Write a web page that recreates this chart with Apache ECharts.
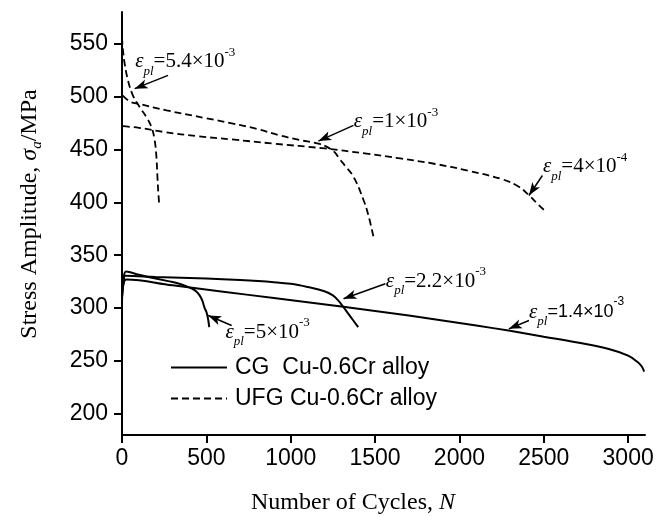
<!DOCTYPE html>
<html><head><meta charset="utf-8">
<script src="https://cdn.jsdelivr.net/npm/echarts@6/dist/echarts.min.js"></script>
<style>html,body{margin:0;padding:0;background:#fff}#c{width:667px;height:517px}</style>
</head><body><div id="c"></div>
<script>
// ---- tick labels ----
const xTicks = [0, 500, 1000, 1500, 2000, 2500, 3000];
const yTicks = [200, 250, 300, 350, 400, 450, 500, 550];
const legendNames = ['CG  Cu-0.6Cr alloy', 'UFG Cu-0.6Cr alloy'];

// ---- CG (solid) curves: cycles N and stress amplitude (MPa) ----
const cg5N  = [0, 8, 25, 100, 155, 273, 330, 392, 420, 442, 460, 475, 490, 501, 511, 517];
const cg5S  = [305, 325, 334.5, 331.5, 329.5, 325.5, 323.5, 320, 318, 315.5, 312, 307.5, 300, 296, 289, 282];
const cg22N = [0, 10, 20, 200, 500, 700, 900, 1000, 1100, 1200, 1250, 1280, 1310, 1340, 1370, 1400];
const cg22S = [310, 326, 330.5, 329.5, 328, 326.5, 324.5, 323, 320, 316, 312, 307.5, 301.5, 295, 288.5, 282];
const cg14N = [0, 8, 25, 300, 600, 900, 1300, 1700, 2100, 2300, 2500, 2700, 2880, 3000, 3056, 3080, 3095];
const cg14S = [312, 322, 327, 321.5, 315.5, 309.5, 301.5, 293, 283.5, 278.5, 273, 267.5, 261.5, 255, 249, 245, 240];

// ---- UFG (dashed) curves ----
const u54N = [0, 5, 16, 36, 65, 105, 145, 175, 194, 204, 210, 215, 220];
const u54S = [556, 545, 531, 515, 501, 490, 480.5, 471, 458.5, 443, 424, 410, 399];
const u10N = [5, 50, 104, 264, 500, 658, 800, 930, 1050, 1164, 1220, 1260, 1290, 1320, 1373, 1432, 1460, 1491];
const u10S = [501, 495, 493, 487, 479.5, 474.5, 469.5, 463.5, 459, 455.5, 452, 447.5, 441, 435, 424, 402, 388, 367];
const u04N = [5, 100, 250, 450, 650, 900, 1200, 1450, 1650, 1850, 2050, 2250, 2350, 2420, 2460, 2500];
const u04S = [472, 470.5, 466.5, 462.5, 459.5, 455.5, 451, 446, 441.5, 436.5, 430, 422, 415, 405.5, 399, 393];

// ---- annotations (data coordinates) ----
const annMant  = ['5.4×10', '1×10', '4×10', '2.2×10', '1.4×10', '5×10'];
const annExp   = ['-3', '-3', '-4', '-3', '-3', '-3'];
const annSans  = [false, false, false, false, true, false];
const annTextN = [75, 1371, 2492, 1561, 2410, 610];
const annTextS = [532.9, 476, 433.5, 325.6, 296.3, 277.4];
const annFromN = [273, 1372, 2492, 1561, 2412, 650];
const annFromS = [520.1, 472.8, 425.4, 323, 288.3, 283.5];
const annToN   = [75, 1164, 2412, 1313, 2293, 511];
const annToS   = [507.5, 457.9, 406.5, 308.8, 280.4, 293];

const zip = (a, b) => a.map((v, i) => [v, b[i]]);
const SERIF = 'Liberation Serif', SANS = 'Liberation Sans';

const annRich = {
  e:  { fontFamily: SERIF, fontStyle: 'italic', fontSize: 21, lineHeight: 32, verticalAlign: 'middle', color: '#000' },
  s:  { fontFamily: SERIF, fontStyle: 'italic', fontSize: 13, lineHeight: 14, verticalAlign: 'bottom', color: '#000' },
  t:  { fontFamily: SERIF, fontSize: 21, lineHeight: 32, verticalAlign: 'middle', color: '#000' },
  p:  { fontFamily: SERIF, fontSize: 13, lineHeight: 16, verticalAlign: 'top', color: '#000' },
  ts: { fontFamily: SANS, fontSize: 18, lineHeight: 32, verticalAlign: 'middle', color: '#000' },
  ps: { fontFamily: SANS, fontSize: 12, lineHeight: 15, verticalAlign: 'top', color: '#000' }
};

const markPointData = annMant.map((m, i) => ({
  coord: [annTextN[i], annTextS[i]],
  label: {
    formatter: annSans[i]
      ? '{e|ε}{s|pl}{ts|=' + m + '}{ps|' + annExp[i] + '}'
      : '{e|ε}{s|pl}{t|=' + m + '}{p|' + annExp[i] + '}'
  }
}));
const markLineData = annMant.map((m, i) => [
  { coord: [annFromN[i], annFromS[i]] },
  { coord: [annToN[i], annToS[i]] }
]);

const solid = { color: '#000', width: 2, type: 'solid' };
const dashed = { color: '#000', width: 1.8, type: [7, 4] };

function curve(name, data, ls, extra) {
  return Object.assign({
    type: 'line', name: name, data: data, showSymbol: false, symbol: 'none',
    smooth: 0.4, lineStyle: ls, itemStyle: { color: '#000' },
    silent: true, animation: false
  }, extra || {});
}

const series = [
  curve(legendNames[0], zip(cg14N, cg14S), solid, {
    markLine: {
      silent: true, symbol: ['none', 'arrow'], symbolSize: [7, 13],
      lineStyle: { color: '#000', width: 1.5, type: 'solid' },
      label: { show: false }, data: markLineData, animation: false
    },
    markPoint: {
      silent: true, symbol: 'circle', symbolSize: 1,
      itemStyle: { color: 'rgba(0,0,0,0)' },
      label: { show: true, position: 'right', distance: 0, rich: annRich },
      data: markPointData, animation: false
    }
  }),
  curve(legendNames[0], zip(cg22N, cg22S), solid),
  curve(legendNames[0], zip(cg5N, cg5S), solid),
  curve(legendNames[1], zip(u54N, u54S), dashed),
  curve(legendNames[1], zip(u10N, u10S), dashed),
  curve(legendNames[1], zip(u04N, u04S), dashed)
];

const chart = echarts.init(document.getElementById('c'), null, { renderer: 'canvas' });
chart.setOption({
  animation: false,
  backgroundColor: '#fff',
  grid: { left: 122, right: 22, top: 12, bottom: 82, containLabel: false, outerBoundsMode: 'none' },
  xAxis: {
    type: 'value', min: 0, max: 3100, interval: 500,
    axisLine: { show: true, lineStyle: { color: '#000', width: 2 } },
    axisTick: { show: true, length: 8, inside: false, lineStyle: { color: '#000', width: 2 }, customValues: xTicks },
    axisLabel: { customValues: xTicks, formatter: v => String(v), color: '#000', fontFamily: SANS, fontSize: 23, margin: 12 },
    splitLine: { show: false }
  },
  yAxis: {
    type: 'value', min: 180, max: 580, interval: 50,
    axisLine: { show: true, onZero: false, lineStyle: { color: '#000', width: 2 } },
    axisTick: { show: true, length: 8, inside: false, lineStyle: { color: '#000', width: 2 }, customValues: yTicks },
    axisLabel: { customValues: yTicks, formatter: v => String(v), color: '#000', fontFamily: SANS, fontSize: 23, margin: 14 },
    splitLine: { show: false }
  },
  legend: {
    orient: 'vertical', left: 170, top: 356, padding: 0, itemWidth: 56, itemHeight: 14, itemGap: 8,
    data: legendNames, selectedMode: false,
    itemStyle: { color: 'rgba(0,0,0,0)', borderWidth: 0, opacity: 0 },
    textStyle: { fontFamily: SANS, fontSize: 23, color: '#000', padding: [0, 0, 0, 3] }
  },
  graphic: [
    {
      type: 'text', x: 30, y: 214, rotation: Math.PI / 2, silent: true,
      style: {
        text: 'Stress Amplitude, {i|σ}{b|a}/MPa',
        fontFamily: SERIF, fontSize: 24, fill: '#000', align: 'center', verticalAlign: 'middle',
        rich: {
          i: { fontFamily: SERIF, fontStyle: 'italic', fontSize: 24, lineHeight: 30, verticalAlign: 'middle', fill: '#000' },
          b: { fontFamily: SERIF, fontStyle: 'italic', fontSize: 15, lineHeight: 15, verticalAlign: 'bottom', fill: '#000' }
        }
      }
    },
    {
      type: 'text', x: 353, y: 503, silent: true,
      style: {
        text: 'Number of Cycles, {i|N}',
        fontFamily: SERIF, fontSize: 24, fill: '#000', align: 'center', verticalAlign: 'middle',
        rich: { i: { fontFamily: SERIF, fontStyle: 'italic', fontSize: 24, fill: '#000' } }
      }
    }
  ],
  series: series
});
</script>
</body></html>
